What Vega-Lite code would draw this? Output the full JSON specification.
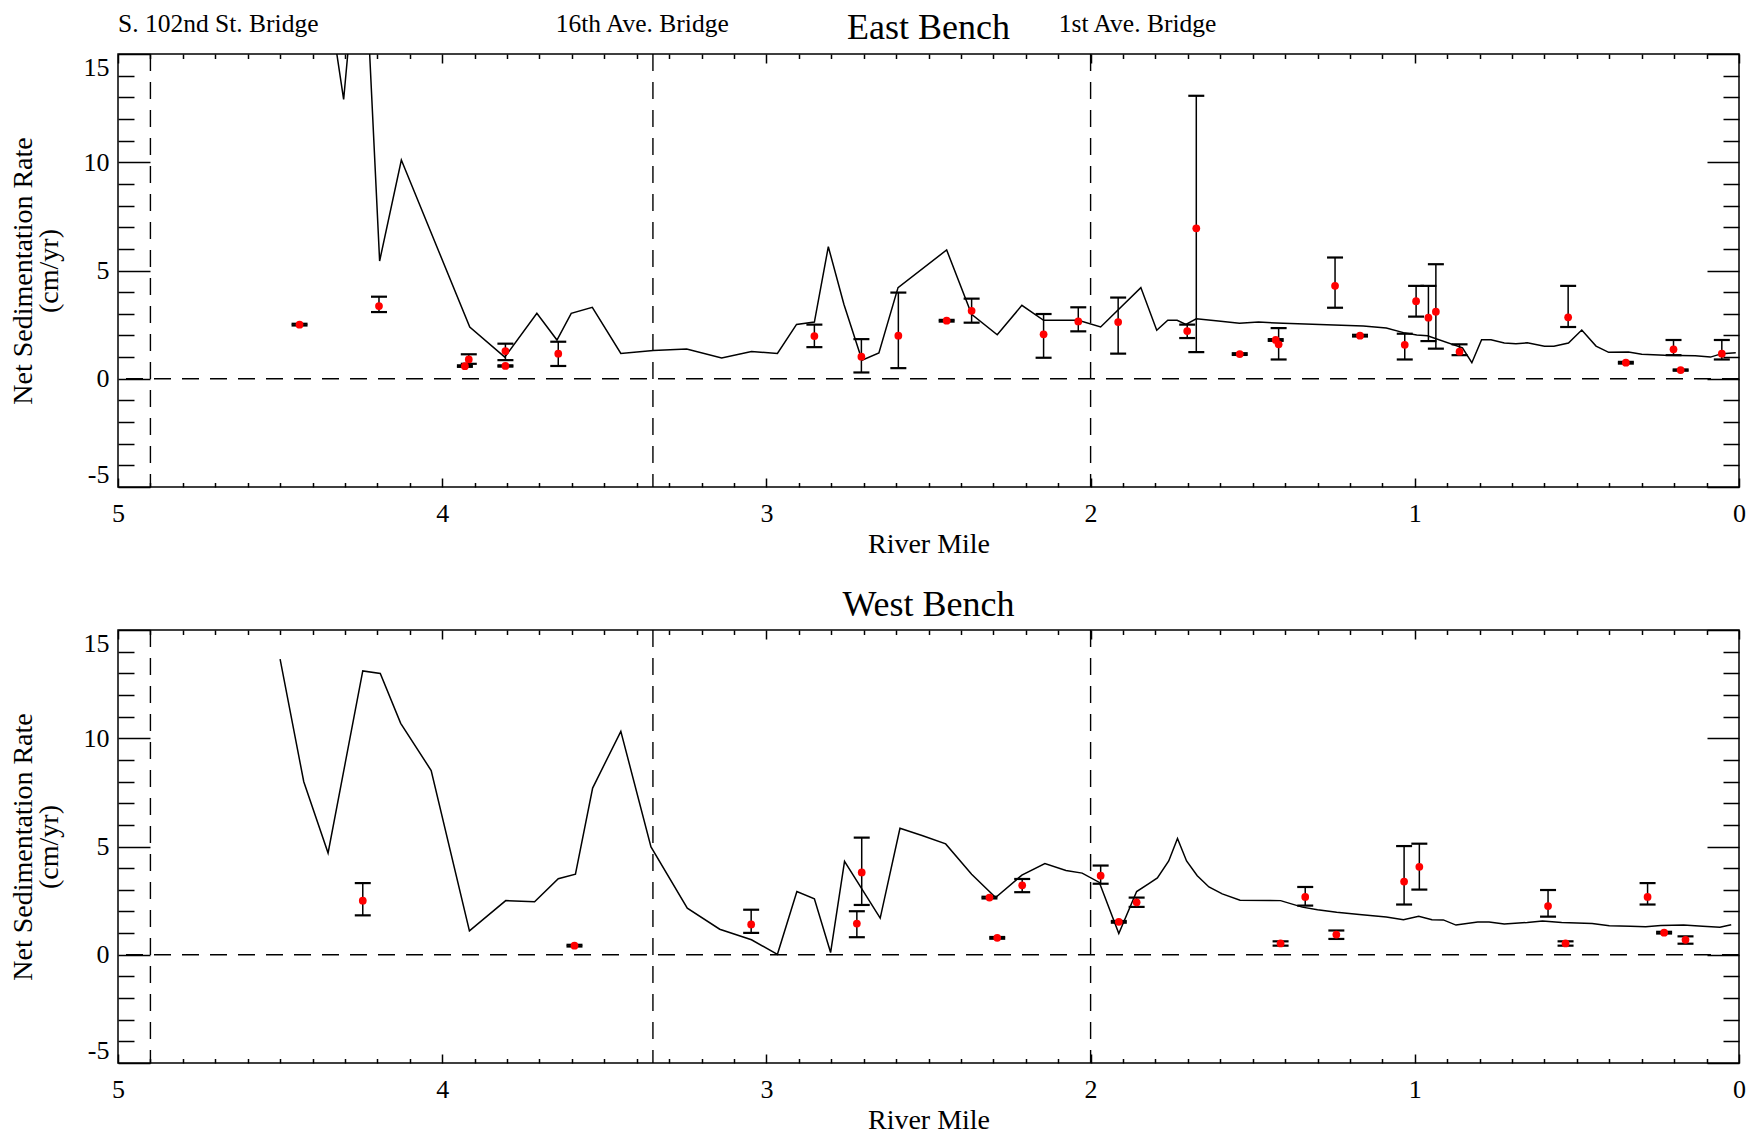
{
  "$schema": "https://vega.github.io/schema/vega-lite/v6.json",
  "background": "white",
  "padding": {"left": 8, "top": 9, "right": 10, "bottom": 2},
  "spacing": 27,
  "config": {
    "font": "Liberation Serif",
    "view": {"stroke": "black", "strokeWidth": 1.5},
    "axis": {"grid": false, "domain": false, "tickColor": "black", "tickWidth": 1.5, "labelColor": "black", "labelFontSize": 26, "titleFontSize": 28, "titleFontWeight": "normal", "titleColor": "black", "labelFont": "Liberation Serif", "titleFont": "Liberation Serif"},
    "title": {"fontSize": 36, "fontWeight": "normal", "anchor": "middle", "frame": "group", "offset": 5, "baseline": "alphabetic", "color": "black", "font": "Liberation Serif"}
  },
  "datasets": {
    "eastLine": [
      {"mile": 4.35, "rate": 17.5}, {"mile": 4.304, "rate": 12.9}, {"mile": 4.27, "rate": 18.5}, {"mile": 4.235, "rate": 18.5},
      {"mile": 4.193, "rate": 5.44}, {"mile": 4.126, "rate": 10.1}, {"mile": 3.915, "rate": 2.39}, {"mile": 3.807, "rate": 1.0},
      {"mile": 3.708, "rate": 3.02}, {"mile": 3.646, "rate": 1.79}, {"mile": 3.602, "rate": 3.02}, {"mile": 3.537, "rate": 3.3},
      {"mile": 3.449, "rate": 1.17}, {"mile": 3.349, "rate": 1.31}, {"mile": 3.246, "rate": 1.37}, {"mile": 3.138, "rate": 0.96},
      {"mile": 3.046, "rate": 1.26}, {"mile": 2.966, "rate": 1.17}, {"mile": 2.907, "rate": 2.51}, {"mile": 2.852, "rate": 2.62},
      {"mile": 2.809, "rate": 6.1}, {"mile": 2.761, "rate": 3.44}, {"mile": 2.705, "rate": 0.86}, {"mile": 2.653, "rate": 1.19},
      {"mile": 2.594, "rate": 4.21}, {"mile": 2.444, "rate": 5.95}, {"mile": 2.367, "rate": 2.98}, {"mile": 2.288, "rate": 2.03},
      {"mile": 2.212, "rate": 3.39}, {"mile": 2.145, "rate": 2.7}, {"mile": 2.038, "rate": 2.7}, {"mile": 1.969, "rate": 2.39},
      {"mile": 1.845, "rate": 4.21}, {"mile": 1.796, "rate": 2.24}, {"mile": 1.762, "rate": 2.7}, {"mile": 1.733, "rate": 2.7},
      {"mile": 1.706, "rate": 2.51}, {"mile": 1.674, "rate": 2.77}, {"mile": 1.606, "rate": 2.67}, {"mile": 1.541, "rate": 2.56},
      {"mile": 1.482, "rate": 2.62}, {"mile": 1.406, "rate": 2.56}, {"mile": 1.159, "rate": 2.44}, {"mile": 1.088, "rate": 2.34},
      {"mile": 1.035, "rate": 2.13}, {"mile": 0.994, "rate": 2.02}, {"mile": 0.961, "rate": 1.99}, {"mile": 0.853, "rate": 1.43},
      {"mile": 0.824, "rate": 0.74}, {"mile": 0.794, "rate": 1.8}, {"mile": 0.765, "rate": 1.8}, {"mile": 0.724, "rate": 1.65},
      {"mile": 0.688, "rate": 1.62}, {"mile": 0.653, "rate": 1.66}, {"mile": 0.6, "rate": 1.5}, {"mile": 0.571, "rate": 1.5},
      {"mile": 0.526, "rate": 1.65}, {"mile": 0.485, "rate": 2.25}, {"mile": 0.441, "rate": 1.51}, {"mile": 0.402, "rate": 1.22},
      {"mile": 0.341, "rate": 1.23}, {"mile": 0.3, "rate": 1.13}, {"mile": 0.229, "rate": 1.08}, {"mile": 0.135, "rate": 1.06},
      {"mile": 0.088, "rate": 1.0}, {"mile": 0.053, "rate": 1.16}, {"mile": 0.01, "rate": 1.2}
    ],
    "eastPts": [
      {"mile": 4.44, "rate": 2.5, "lo": 2.46, "hi": 2.54}, {"mile": 4.195, "rate": 3.36, "lo": 3.08, "hi": 3.79},
      {"mile": 3.93, "rate": 0.58, "lo": 0.55, "hi": 0.62}, {"mile": 3.918, "rate": 0.89, "lo": 0.69, "hi": 1.13},
      {"mile": 3.805, "rate": 1.28, "lo": 0.86, "hi": 1.62}, {"mile": 3.805, "rate": 0.59, "lo": 0.56, "hi": 0.62},
      {"mile": 3.642, "rate": 1.16, "lo": 0.59, "hi": 1.71}, {"mile": 2.852, "rate": 1.97, "lo": 1.46, "hi": 2.5},
      {"mile": 2.707, "rate": 1.02, "lo": 0.29, "hi": 1.83}, {"mile": 2.593, "rate": 1.99, "lo": 0.49, "hi": 3.98},
      {"mile": 2.444, "rate": 2.68, "lo": 2.64, "hi": 2.72}, {"mile": 2.367, "rate": 3.14, "lo": 2.59, "hi": 3.7},
      {"mile": 2.145, "rate": 2.05, "lo": 0.97, "hi": 2.99}, {"mile": 2.038, "rate": 2.65, "lo": 2.19, "hi": 3.3},
      {"mile": 1.915, "rate": 2.62, "lo": 1.16, "hi": 3.75}, {"mile": 1.702, "rate": 2.2, "lo": 1.88, "hi": 2.5},
      {"mile": 1.674, "rate": 6.95, "lo": 1.23, "hi": 13.07}, {"mile": 1.54, "rate": 1.14, "lo": 1.1, "hi": 1.18},
      {"mile": 1.429, "rate": 1.79, "lo": 1.75, "hi": 1.83}, {"mile": 1.42, "rate": 1.59, "lo": 0.89, "hi": 2.34},
      {"mile": 1.246, "rate": 4.29, "lo": 3.28, "hi": 5.6}, {"mile": 1.169, "rate": 1.99, "lo": 1.95, "hi": 2.03},
      {"mile": 1.031, "rate": 1.57, "lo": 0.89, "hi": 2.08}, {"mile": 0.996, "rate": 3.58, "lo": 2.87, "hi": 4.29},
      {"mile": 0.958, "rate": 2.82, "lo": 1.74, "hi": 4.29}, {"mile": 0.935, "rate": 3.1, "lo": 1.39, "hi": 5.29},
      {"mile": 0.862, "rate": 1.25, "lo": 1.09, "hi": 1.59}, {"mile": 0.527, "rate": 2.84, "lo": 2.39, "hi": 4.29},
      {"mile": 0.349, "rate": 0.74, "lo": 0.7, "hi": 0.78}, {"mile": 0.202, "rate": 1.36, "lo": 1.09, "hi": 1.79},
      {"mile": 0.18, "rate": 0.4, "lo": 0.37, "hi": 0.43}, {"mile": 0.053, "rate": 1.16, "lo": 0.89, "hi": 1.79}
    ],
    "westLine": [
      {"mile": 4.5, "rate": 13.65}, {"mile": 4.427, "rate": 7.99}, {"mile": 4.352, "rate": 4.7}, {"mile": 4.245, "rate": 13.11},
      {"mile": 4.191, "rate": 12.99}, {"mile": 4.128, "rate": 10.69}, {"mile": 4.034, "rate": 8.51}, {"mile": 3.916, "rate": 1.1},
      {"mile": 3.804, "rate": 2.5}, {"mile": 3.715, "rate": 2.45}, {"mile": 3.642, "rate": 3.51}, {"mile": 3.589, "rate": 3.72},
      {"mile": 3.536, "rate": 7.7}, {"mile": 3.449, "rate": 10.32}, {"mile": 3.356, "rate": 4.98}, {"mile": 3.244, "rate": 2.15},
      {"mile": 3.144, "rate": 1.18}, {"mile": 3.046, "rate": 0.69}, {"mile": 2.966, "rate": 0.02}, {"mile": 2.906, "rate": 2.92},
      {"mile": 2.852, "rate": 2.58}, {"mile": 2.802, "rate": 0.1}, {"mile": 2.759, "rate": 4.31}, {"mile": 2.649, "rate": 1.69},
      {"mile": 2.588, "rate": 5.84}, {"mile": 2.52, "rate": 5.51}, {"mile": 2.447, "rate": 5.12}, {"mile": 2.367, "rate": 3.72},
      {"mile": 2.293, "rate": 2.64}, {"mile": 2.212, "rate": 3.68}, {"mile": 2.141, "rate": 4.21}, {"mile": 2.076, "rate": 3.89},
      {"mile": 2.026, "rate": 3.77}, {"mile": 1.973, "rate": 3.34}, {"mile": 1.913, "rate": 0.98}, {"mile": 1.858, "rate": 2.92},
      {"mile": 1.818, "rate": 3.31}, {"mile": 1.794, "rate": 3.55}, {"mile": 1.759, "rate": 4.33}, {"mile": 1.732, "rate": 5.37},
      {"mile": 1.704, "rate": 4.33}, {"mile": 1.671, "rate": 3.65}, {"mile": 1.635, "rate": 3.13}, {"mile": 1.594, "rate": 2.81},
      {"mile": 1.539, "rate": 2.52}, {"mile": 1.414, "rate": 2.5}, {"mile": 1.347, "rate": 2.2}, {"mile": 1.3, "rate": 2.08},
      {"mile": 1.241, "rate": 1.96}, {"mile": 1.171, "rate": 1.86}, {"mile": 1.088, "rate": 1.74}, {"mile": 1.035, "rate": 1.62},
      {"mile": 0.988, "rate": 1.78}, {"mile": 0.947, "rate": 1.62}, {"mile": 0.912, "rate": 1.61}, {"mile": 0.873, "rate": 1.37},
      {"mile": 0.806, "rate": 1.51}, {"mile": 0.771, "rate": 1.51}, {"mile": 0.724, "rate": 1.42}, {"mile": 0.653, "rate": 1.49},
      {"mile": 0.606, "rate": 1.56}, {"mile": 0.547, "rate": 1.49}, {"mile": 0.453, "rate": 1.44}, {"mile": 0.4, "rate": 1.34},
      {"mile": 0.335, "rate": 1.32}, {"mile": 0.288, "rate": 1.29}, {"mile": 0.241, "rate": 1.35}, {"mile": 0.171, "rate": 1.37},
      {"mile": 0.112, "rate": 1.32}, {"mile": 0.059, "rate": 1.27}, {"mile": 0.024, "rate": 1.39}
    ],
    "westPts": [
      {"mile": 4.245, "rate": 2.5, "lo": 1.82, "hi": 3.31}, {"mile": 3.592, "rate": 0.42, "lo": 0.38, "hi": 0.46},
      {"mile": 3.047, "rate": 1.4, "lo": 1.01, "hi": 2.08}, {"mile": 2.721, "rate": 1.44, "lo": 0.81, "hi": 2.01},
      {"mile": 2.706, "rate": 3.8, "lo": 2.3, "hi": 5.41}, {"mile": 2.312, "rate": 2.64, "lo": 2.6, "hi": 2.68},
      {"mile": 2.288, "rate": 0.78, "lo": 0.74, "hi": 0.82}, {"mile": 2.211, "rate": 3.21, "lo": 2.89, "hi": 3.5},
      {"mile": 1.969, "rate": 3.65, "lo": 3.28, "hi": 4.12}, {"mile": 1.913, "rate": 1.52, "lo": 1.48, "hi": 1.56},
      {"mile": 1.858, "rate": 2.42, "lo": 2.21, "hi": 2.64}, {"mile": 1.414, "rate": 0.52, "lo": 0.42, "hi": 0.62},
      {"mile": 1.338, "rate": 2.67, "lo": 2.27, "hi": 3.13}, {"mile": 1.242, "rate": 0.93, "lo": 0.73, "hi": 1.12},
      {"mile": 1.033, "rate": 3.38, "lo": 2.32, "hi": 5.02}, {"mile": 0.986, "rate": 4.06, "lo": 3.01, "hi": 5.13},
      {"mile": 0.589, "rate": 2.25, "lo": 1.76, "hi": 2.99}, {"mile": 0.535, "rate": 0.52, "lo": 0.42, "hi": 0.62},
      {"mile": 0.282, "rate": 2.67, "lo": 2.32, "hi": 3.31}, {"mile": 0.231, "rate": 1.02, "lo": 0.98, "hi": 1.06},
      {"mile": 0.165, "rate": 0.69, "lo": 0.51, "hi": 0.85}
    ],
    "zero": [{"rate": 0}],
    "bridgeLines": [{"mile": 4.9}, {"mile": 3.35}, {"mile": 2.0}],
    "bridgeLabels": [
      {"mile": 5.0, "label": "S. 102nd St. Bridge"},
      {"mile": 3.65, "label": "16th Ave. Bridge"},
      {"mile": 2.098, "label": "1st Ave. Bridge"}
    ]
  },
  "vconcat": [
    {
      "width": 1621, "height": 433,
      "title": {"text": "East Bench", "dy": 40},
      "resolve": {"axis": {"x": "independent", "y": "independent"}},
      "layer": [
        {
          "data": {"name": "zero"},
          "mark": {"type": "rule", "color": "black", "strokeWidth": 1.4, "strokeDash": [17, 11]},
          "encoding": {"y": {"field": "rate", "type": "quantitative", "scale": {"domain": [-5, 15], "nice": false, "zero": false}, "axis": null}}
        },
        {
          "data": {"name": "bridgeLines"},
          "mark": {"type": "rule", "color": "black", "strokeWidth": 1.4, "strokeDash": [17, 11]},
          "encoding": {"x": {"field": "mile", "type": "quantitative", "scale": {"domain": [0, 5], "reverse": true, "nice": false, "zero": false}, "axis": null}}
        },
        {
          "data": {"name": "eastLine"},
          "mark": {"type": "line", "clip": true, "color": "black", "strokeWidth": 1.5},
          "encoding": {
            "x": {"field": "mile", "type": "quantitative", "scale": {"domain": [0, 5], "reverse": true, "nice": false, "zero": false},
                  "axis": {"orient": "bottom", "values": [0, 1, 2, 3, 4, 5], "format": "d", "tickSize": -9, "labelPadding": 22, "labelFlush": false, "title": "River Mile", "titlePadding": 4}},
            "y": {"field": "rate", "type": "quantitative", "scale": {"domain": [-5, 15], "nice": false, "zero": false},
                  "axis": {"orient": "left", "values": [-5, 0, 5, 10, 15], "labelExpr": "'' + datum.value", "tickSize": -32, "labelPadding": 41, "labelFlush": true, "title": ["Net Sedimentation Rate", "(cm/yr)"], "titleLineHeight": 26, "titlePadding": 20}}
          }
        },
        {
          "data": {"name": "eastPts"},
          "mark": {"type": "rule", "color": "black", "strokeWidth": 1.5},
          "encoding": {
            "x": {"field": "mile", "type": "quantitative", "scale": {"domain": [0, 5], "reverse": true, "nice": false, "zero": false},
                  "axis": {"orient": "bottom", "values": [0.1,0.2,0.3,0.4,0.5,0.6,0.7,0.8,0.9,1.1,1.2,1.3,1.4,1.5,1.6,1.7,1.8,1.9,2.1,2.2,2.3,2.4,2.5,2.6,2.7,2.8,2.9,3.1,3.2,3.3,3.4,3.5,3.6,3.7,3.8,3.9,4.1,4.2,4.3,4.4,4.5,4.6,4.7,4.8,4.9], "tickSize": -4.5, "labels": false, "title": null}},
            "y": {"field": "lo", "type": "quantitative", "scale": {"domain": [-5, 15], "nice": false, "zero": false},
                  "axis": {"orient": "left", "values": [-4,-3,-2,-1,1,2,3,4,6,7,8,9,11,12,13,14], "tickSize": -16, "labels": false, "title": null}},
            "y2": {"field": "hi"}
          }
        },
        {
          "data": {"name": "eastPts"},
          "mark": {"type": "point", "shape": "stroke", "size": 256, "filled": false, "color": "black", "strokeWidth": 2.2, "opacity": 1},
          "encoding": {
            "x": {"field": "mile", "type": "quantitative", "scale": {"domain": [0, 5], "reverse": true, "nice": false, "zero": false},
                  "axis": {"orient": "top", "values": [0, 1, 2, 3, 4, 5], "tickSize": -9, "labels": false, "title": null}},
            "y": {"field": "lo", "type": "quantitative", "scale": {"domain": [-5, 15], "nice": false, "zero": false},
                  "axis": {"orient": "right", "values": [-5, 0, 5, 10, 15], "tickSize": -32, "labels": false, "title": null}}
          }
        },
        {
          "data": {"name": "eastPts"},
          "mark": {"type": "point", "shape": "stroke", "size": 256, "filled": false, "color": "black", "strokeWidth": 2.2, "opacity": 1},
          "encoding": {
            "x": {"field": "mile", "type": "quantitative", "scale": {"domain": [0, 5], "reverse": true, "nice": false, "zero": false},
                  "axis": {"orient": "top", "values": [0.1,0.2,0.3,0.4,0.5,0.6,0.7,0.8,0.9,1.1,1.2,1.3,1.4,1.5,1.6,1.7,1.8,1.9,2.1,2.2,2.3,2.4,2.5,2.6,2.7,2.8,2.9,3.1,3.2,3.3,3.4,3.5,3.6,3.7,3.8,3.9,4.1,4.2,4.3,4.4,4.5,4.6,4.7,4.8,4.9], "tickSize": -4.5, "labels": false, "title": null}},
            "y": {"field": "hi", "type": "quantitative", "scale": {"domain": [-5, 15], "nice": false, "zero": false},
                  "axis": {"orient": "right", "values": [-4,-3,-2,-1,1,2,3,4,6,7,8,9,11,12,13,14], "tickSize": -16, "labels": false, "title": null}}
          }
        },
        {
          "data": {"name": "eastPts"},
          "mark": {"type": "circle", "color": "#ff0000", "size": 60, "opacity": 1},
          "encoding": {
            "x": {"field": "mile", "type": "quantitative", "scale": {"domain": [0, 5], "reverse": true, "nice": false, "zero": false}, "axis": null},
            "y": {"field": "rate", "type": "quantitative", "scale": {"domain": [-5, 15], "nice": false, "zero": false}, "axis": null}
          }
        },
        {
          "data": {"name": "bridgeLabels"},
          "mark": {"type": "text", "align": "left", "baseline": "alphabetic", "fontSize": 25.5, "color": "black"},
          "encoding": {
            "x": {"field": "mile", "type": "quantitative", "scale": {"domain": [0, 5], "reverse": true, "nice": false, "zero": false}, "axis": null},
            "y": {"datum": 16, "type": "quantitative", "scale": {"domain": [-5, 15], "nice": false, "zero": false}, "axis": null},
            "text": {"field": "label"}
          }
        }
      ]
    },
    {
      "width": 1621, "height": 433,
      "title": {"text": "West Bench"},
      "resolve": {"axis": {"x": "independent", "y": "independent"}},
      "layer": [
        {
          "data": {"name": "zero"},
          "mark": {"type": "rule", "color": "black", "strokeWidth": 1.4, "strokeDash": [17, 11]},
          "encoding": {"y": {"field": "rate", "type": "quantitative", "scale": {"domain": [-5, 15], "nice": false, "zero": false}, "axis": null}}
        },
        {
          "data": {"name": "bridgeLines"},
          "mark": {"type": "rule", "color": "black", "strokeWidth": 1.4, "strokeDash": [17, 11]},
          "encoding": {"x": {"field": "mile", "type": "quantitative", "scale": {"domain": [0, 5], "reverse": true, "nice": false, "zero": false}, "axis": null}}
        },
        {
          "data": {"name": "westLine"},
          "mark": {"type": "line", "clip": true, "color": "black", "strokeWidth": 1.5},
          "encoding": {
            "x": {"field": "mile", "type": "quantitative", "scale": {"domain": [0, 5], "reverse": true, "nice": false, "zero": false},
                  "axis": {"orient": "bottom", "values": [0, 1, 2, 3, 4, 5], "format": "d", "tickSize": -9, "labelPadding": 22, "labelFlush": false, "title": "River Mile", "titlePadding": 4}},
            "y": {"field": "rate", "type": "quantitative", "scale": {"domain": [-5, 15], "nice": false, "zero": false},
                  "axis": {"orient": "left", "values": [-5, 0, 5, 10, 15], "labelExpr": "'' + datum.value", "tickSize": -32, "labelPadding": 41, "labelFlush": true, "title": ["Net Sedimentation Rate", "(cm/yr)"], "titleLineHeight": 26, "titlePadding": 20}}
          }
        },
        {
          "data": {"name": "westPts"},
          "mark": {"type": "rule", "color": "black", "strokeWidth": 1.5},
          "encoding": {
            "x": {"field": "mile", "type": "quantitative", "scale": {"domain": [0, 5], "reverse": true, "nice": false, "zero": false},
                  "axis": {"orient": "bottom", "values": [0.1,0.2,0.3,0.4,0.5,0.6,0.7,0.8,0.9,1.1,1.2,1.3,1.4,1.5,1.6,1.7,1.8,1.9,2.1,2.2,2.3,2.4,2.5,2.6,2.7,2.8,2.9,3.1,3.2,3.3,3.4,3.5,3.6,3.7,3.8,3.9,4.1,4.2,4.3,4.4,4.5,4.6,4.7,4.8,4.9], "tickSize": -4.5, "labels": false, "title": null}},
            "y": {"field": "lo", "type": "quantitative", "scale": {"domain": [-5, 15], "nice": false, "zero": false},
                  "axis": {"orient": "left", "values": [-4,-3,-2,-1,1,2,3,4,6,7,8,9,11,12,13,14], "tickSize": -16, "labels": false, "title": null}},
            "y2": {"field": "hi"}
          }
        },
        {
          "data": {"name": "westPts"},
          "mark": {"type": "point", "shape": "stroke", "size": 256, "filled": false, "color": "black", "strokeWidth": 2.2, "opacity": 1},
          "encoding": {
            "x": {"field": "mile", "type": "quantitative", "scale": {"domain": [0, 5], "reverse": true, "nice": false, "zero": false},
                  "axis": {"orient": "top", "values": [0, 1, 2, 3, 4, 5], "tickSize": -9, "labels": false, "title": null}},
            "y": {"field": "lo", "type": "quantitative", "scale": {"domain": [-5, 15], "nice": false, "zero": false},
                  "axis": {"orient": "right", "values": [-5, 0, 5, 10, 15], "tickSize": -32, "labels": false, "title": null}}
          }
        },
        {
          "data": {"name": "westPts"},
          "mark": {"type": "point", "shape": "stroke", "size": 256, "filled": false, "color": "black", "strokeWidth": 2.2, "opacity": 1},
          "encoding": {
            "x": {"field": "mile", "type": "quantitative", "scale": {"domain": [0, 5], "reverse": true, "nice": false, "zero": false},
                  "axis": {"orient": "top", "values": [0.1,0.2,0.3,0.4,0.5,0.6,0.7,0.8,0.9,1.1,1.2,1.3,1.4,1.5,1.6,1.7,1.8,1.9,2.1,2.2,2.3,2.4,2.5,2.6,2.7,2.8,2.9,3.1,3.2,3.3,3.4,3.5,3.6,3.7,3.8,3.9,4.1,4.2,4.3,4.4,4.5,4.6,4.7,4.8,4.9], "tickSize": -4.5, "labels": false, "title": null}},
            "y": {"field": "hi", "type": "quantitative", "scale": {"domain": [-5, 15], "nice": false, "zero": false},
                  "axis": {"orient": "right", "values": [-4,-3,-2,-1,1,2,3,4,6,7,8,9,11,12,13,14], "tickSize": -16, "labels": false, "title": null}}
          }
        },
        {
          "data": {"name": "westPts"},
          "mark": {"type": "circle", "color": "#ff0000", "size": 60, "opacity": 1},
          "encoding": {
            "x": {"field": "mile", "type": "quantitative", "scale": {"domain": [0, 5], "reverse": true, "nice": false, "zero": false}, "axis": null},
            "y": {"field": "rate", "type": "quantitative", "scale": {"domain": [-5, 15], "nice": false, "zero": false}, "axis": null}
          }
        }
      ]
    }
  ]
}
